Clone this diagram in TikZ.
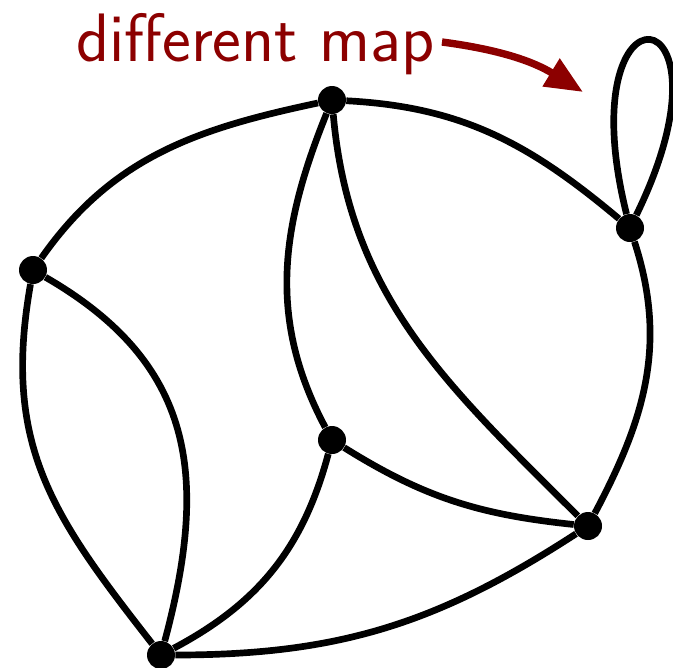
\documentclass[tikz,border=0pt]{standalone}
\usepackage{xcolor}
\usepackage{tikz}
\usetikzlibrary{arrows.meta}
\definecolor{mapred}{RGB}{140,0,0}

\begin{document}
\begin{tikzpicture}[
    x=0.02cm, y=-0.02cm,
    vertex/.style={circle, fill=black, inner sep=0pt, minimum size=0.56cm},
    edge/.style={line width=3.8pt, black},
    labelarrow/.style={-{Triangle[length=0.75cm, width=0.62cm]}, line width=4.2pt, color=mapred},
    maplabel/.style={text=mapred, font=\fontsize{39}{44}\selectfont\sffamily, inner sep=0pt}
]
\useasboundingbox (0,0) rectangle (673,667);

% Nodes
\node[vertex] (top) at (332,100) {};
\node[vertex] (left) at (33,270) {};
\node[vertex] (right) at (630,228) {};
\node[vertex] (mid) at (332,440) {};
\node[vertex] (lowright) at (588,526) {};
\node[vertex] (bottom) at (161,655) {};

\node[maplabel, anchor=base west] (label) at (76,61) {different map};
\coordinate (start) at (442,42);
\coordinate (tip) at (583,92);

% Edges
\draw[edge] (left) to[out=55, in=192] (top);
\draw[edge] (top) to[out=-3, in=140] (right);
\draw[edge] (right) to[out=-72, in=62] (lowright);
\draw[edge] (lowright) to[out=213, in=0] (bottom);
\draw[edge] (bottom) to[out=128, in=-100, looseness=1.1] (left);
\draw[edge] (bottom) to[out=75, in=-30, looseness=1.15] (left);
\draw[edge] (top) to[out=-112, in=118] (mid);
\draw[edge] (top) to[out=-85, in=135] (lowright);
\draw[edge] (mid) to[out=-32, in=174] (lowright);
\draw[edge] (mid) to[out=-105, in=28] (bottom);
\draw[edge] (right) to[out=104, in=64, min distance=5.0cm] (right);

% Label arrow
\draw[labelarrow] (start) to[bend left=12] (tip);

\end{tikzpicture}
\end{document}
